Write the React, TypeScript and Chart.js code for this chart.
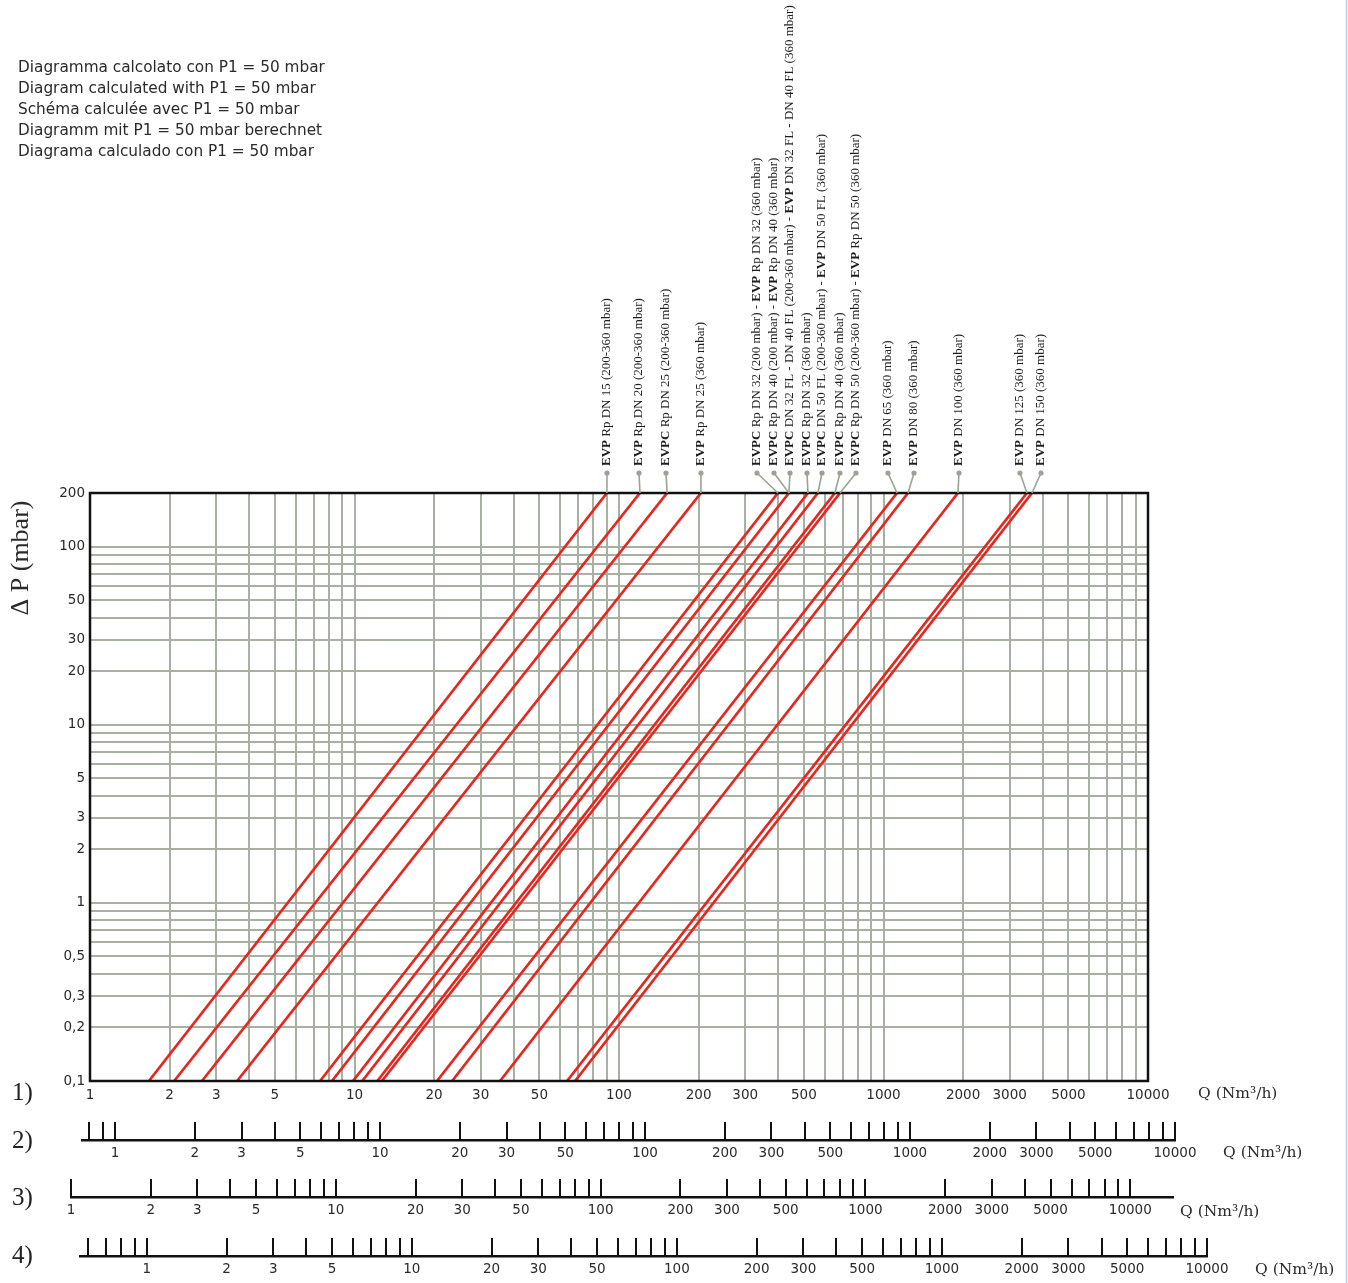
import React, { useEffect, useRef } from 'react';
import { Chart, registerables } from 'chart.js';

Chart.register(...registerables);

// ---------------- data ----------------
const DP_MIN = 0.1; // mbar, bottom end of every line
const DP_MAX = 200; // mbar, top end of every line
// flow (Nm3/h) where each red line meets ΔP = 0.1 and ΔP = 200
const Q_AT_DP_MIN = [1.67, 2.08, 2.65, 3.6, 7.41, 8.22, 9.87, 10.7, 12.2, 12.7, 20.5, 23.4, 35.5, 63.6, 68.2];
const Q_AT_DP_MAX = [90, 120, 152, 204, 399, 439, 518, 565, 655, 685, 1125, 1238, 1912, 3487, 3642];

const CURVE_LABELS = [
  'EVP Rp DN 15 (200-360 mbar)',
  'EVP Rp DN 20 (200-360 mbar)',
  'EVPC Rp DN 25 (200-360 mbar)',
  'EVP Rp DN 25 (360 mbar)',
  'EVPC Rp DN 32 (200 mbar) - EVP Rp DN 32 (360 mbar)',
  'EVPC Rp DN 40 (200 mbar) - EVP Rp DN 40 (360 mbar)',
  'EVPC DN 32 FL - DN 40 FL (200-360 mbar) - EVP DN 32 FL - DN 40 FL (360 mbar)',
  'EVPC Rp DN 32 (360 mbar)',
  'EVPC DN 50 FL (200-360 mbar) - EVP DN 50 FL (360 mbar)',
  'EVPC Rp DN 40 (360 mbar)',
  'EVPC Rp DN 50 (200-360 mbar) - EVP Rp DN 50 (360 mbar)',
  'EVP DN 65 (360 mbar)',
  'EVP DN 80 (360 mbar)',
  'EVP DN 100 (360 mbar)',
  'EVP DN 125 (360 mbar)',
  'EVP DN 150 (360 mbar)',
];
// which red line each label points to
const LABEL_LINE = [0, 1, 2, 3, 4, 5, 5, 6, 7, 8, 9, 10, 11, 12, 13, 14];

const NOTE_LINES = [
  'Diagramma calcolato con P1 = 50 mbar',
  'Diagram calculated with P1 = 50 mbar',
  'Schéma calculée avec P1 = 50 mbar',
  'Diagramm mit P1 = 50 mbar berechnet',
  'Diagrama calculado con P1 = 50 mbar',
];
const Y_TITLE = 'Δ P (mbar)';
const Q_TITLE = 'Q (Nm³/h)';
const ROW_NAMES = ['1)', '2)', '3)', '4)'];

const X_MIN = 1;
const X_MAX = 10000;
const Y_MIN = 0.1;
const Y_MAX = 200;
const MANTISSAS = [1, 2, 3, 4, 5, 6, 7, 8, 9];
const DECADES = [0.1, 1, 10, 100, 1000, 10000];
const LABELED_VALUES = [0.1, 0.2, 0.3, 0.5, 1, 2, 3, 5, 10, 20, 30, 50, 100, 200, 300, 500, 1000, 2000, 3000, 5000, 10000];
// extra scales 2) 3) 4)
const ROW_MIN = [0.75, 1, 0.56];
const ROW_MAX = [10000, 14500, 10000];
const ROW_FIRST_TICK = [0.8, 1, 0.6];
const ROW_LAST_TICK = [10000, 10000, 10000];

// ---------------- layout / style ----------------
const W = 1348;
const H = 1283;
const AREA = { left: 90, top: 493, right: 1148, bottom: 1081 };
const ROW_AXIS_Y = [1140, 1197, 1256];
const ROW_LINE_LEFT = [82, 71, 80];
const ROW_LINE_RIGHT = [1175, 1173, 1207];
const ROW_NAME_POS = [[12, 1093], [12, 1141], [12, 1198], [12, 1256]];
const Q_TITLE_POS = [[1198, 1094], [1223, 1153], [1180, 1212], [1255, 1270]];
const LABEL_X = [607, 639, 666, 701, 757, 774, 790, 807, 822, 840, 856, 888, 914, 959, 1020, 1041];
const DOT_Y = 473;
const RED = '#e3281f';
const GRID = '#a7b0a1';
const TEXT = '#2a2a2a';
const NUM_FONT = { family: 'DejaVu Sans', size: 13.5 };

function gridValues(from: number, to: number): number[] {
  const out: number[] = [];
  for (const d of DECADES) {
    for (const m of MANTISSAS) {
      const v = Number((m * d).toPrecision(3));
      if (v >= from - 1e-9 && v <= to + 1e-9) out.push(v);
    }
  }
  return out;
}

function fmt(v: number): string {
  const hit = LABELED_VALUES.find((l) => Math.abs(l - v) < 1e-9);
  return hit === undefined ? '' : String(hit).replace('.', ',');
}

function tokens(label: string) {
  return label.split(/(EVPC|EVP)/).filter((t) => t.length > 0).map((t) => ({ t, bold: t === 'EVP' || t === 'EVPC' }));
}

const decorPlugin = {
  id: 'decor',
  afterDraw(chart: any) {
    const { ctx, chartArea: a, scales } = chart;
    const xs = scales.x;
    ctx.save();
    // frame
    ctx.strokeStyle = '#111';
    ctx.lineWidth = 2.5;
    ctx.strokeRect(a.left, a.top, a.right - a.left, a.bottom - a.top);

    // right image edge
    ctx.strokeStyle = '#b9cde2';
    ctx.lineWidth = 1.5;
    ctx.beginPath();
    ctx.moveTo(1346.5, 0);
    ctx.lineTo(1346.5, H);
    ctx.stroke();

    // notes
    ctx.fillStyle = TEXT;
    ctx.font = '15.3px "DejaVu Sans"';
    ctx.textBaseline = 'middle';
    ctx.textAlign = 'left';
    NOTE_LINES.forEach((t, i) => ctx.fillText(t, 18, 68 + i * 21));

    // y title
    ctx.save();
    ctx.translate(21, 558);
    ctx.rotate(-Math.PI / 2);
    ctx.textAlign = 'center';
    ctx.font = '26px "Liberation Serif"';
    ctx.fillText(Y_TITLE, 0, 0);
    ctx.restore();

    // row names
    ctx.font = '25px "Liberation Serif"';
    ctx.fillStyle = '#222';
    ROW_NAMES.forEach((t, i) => ctx.fillText(t, ROW_NAME_POS[i][0], ROW_NAME_POS[i][1]));
    // Q titles
    ctx.font = '15.5px "DejaVu Serif"';
    ctx.fillStyle = TEXT;
    Q_TITLE_POS.forEach((p) => ctx.fillText(Q_TITLE, p[0], p[1]));

    // curve labels
    CURVE_LABELS.forEach((label, i) => {
      const lx = LABEL_X[i];
      const tx = xs.getPixelForValue(Q_AT_DP_MAX[LABEL_LINE[i]]);
      ctx.strokeStyle = '#9aa394';
      ctx.lineWidth = 1.6;
      ctx.beginPath();
      ctx.moveTo(lx, DOT_Y);
      ctx.lineTo(tx, a.top);
      ctx.stroke();
      ctx.fillStyle = '#9aa394';
      ctx.beginPath();
      ctx.arc(lx, DOT_Y, 2.6, 0, Math.PI * 2);
      ctx.fill();
      ctx.save();
      ctx.translate(lx, DOT_Y - 7);
      ctx.rotate(-Math.PI / 2);
      ctx.textAlign = 'left';
      ctx.textBaseline = 'middle';
      ctx.fillStyle = '#1e1e1e';
      let cx = 0;
      for (const tk of tokens(label)) {
        ctx.font = (tk.bold ? 'bold ' : '') + '13px "Liberation Serif"';
        ctx.fillText(tk.t, cx, 0);
        cx += ctx.measureText(tk.t).width;
      }
      ctx.restore();
    });
    ctx.restore();
  },
};

function mainConfig(): any {
  const xGrid = gridValues(X_MIN, X_MAX);
  const yGrid = gridValues(Y_MIN, Y_MAX);
  return {
    type: 'scatter',
    data: {
      datasets: Q_AT_DP_MIN.map((q0, i) => ({
        data: [
          { x: q0, y: DP_MIN },
          { x: Q_AT_DP_MAX[i], y: DP_MAX },
        ],
        showLine: true,
        borderColor: RED,
        borderWidth: 2.7,
        pointRadius: 0,
        fill: false,
      })),
    },
    options: {
      responsive: false,
      animation: false,
      events: [],
      layout: { padding: { left: 0, top: AREA.top, right: W - AREA.right, bottom: H - AREA.bottom - 30 } },
      plugins: { legend: { display: false }, tooltip: { enabled: false } },
      scales: {
        x: {
          type: 'logarithmic',
          min: X_MIN,
          max: X_MAX,
          afterBuildTicks: (s: any) => { s.ticks = xGrid.map((v) => ({ value: v })); },
          afterFit: (s: any) => { s.height = 30; },
          grid: { color: GRID, lineWidth: 2, drawTicks: false },
          border: { display: false },
          ticks: { autoSkip: false, maxRotation: 0, minRotation: 0, padding: 6, color: TEXT, font: NUM_FONT, callback: (v: any) => fmt(Number(v)) },
        },
        y: {
          type: 'logarithmic',
          min: Y_MIN,
          max: Y_MAX,
          afterBuildTicks: (s: any) => { s.ticks = yGrid.map((v) => ({ value: v })); },
          afterFit: (s: any) => { s.width = AREA.left; },
          grid: { color: GRID, lineWidth: 2, drawTicks: false },
          border: { display: false },
          ticks: { autoSkip: false, padding: 5, color: TEXT, font: NUM_FONT, callback: (v: any) => fmt(Number(v)) },
        },
      },
    },
    plugins: [decorPlugin],
  };
}

function rowConfig(r: number): any {
  const ticks = gridValues(ROW_FIRST_TICK[r], ROW_LAST_TICK[r]);
  return {
    type: 'scatter',
    data: { datasets: [] },
    options: {
      responsive: false,
      animation: false,
      events: [],
      layout: { padding: { left: ROW_LINE_LEFT[r], right: W - ROW_LINE_RIGHT[r], top: 12, bottom: 0 } },
      plugins: { legend: { display: false }, tooltip: { enabled: false } },
      scales: {
        x: {
          type: 'logarithmic',
          min: ROW_MIN[r],
          max: ROW_MAX[r],
          afterBuildTicks: (s: any) => { s.ticks = ticks.map((v) => ({ value: v })); },
          afterFit: (s: any) => { s.height = 30; },
          grid: { color: '#111', lineWidth: 2, drawTicks: false, drawOnChartArea: true },
          border: { display: true, color: '#111', width: 2.5 },
          ticks: { autoSkip: false, maxRotation: 0, minRotation: 0, padding: 5, color: TEXT, font: NUM_FONT, callback: (v: any) => fmt(Number(v)) },
        },
        y: { display: false, min: 0, max: 1 },
      },
    },
  };
}

export default function App() {
  const mainRef = useRef<HTMLCanvasElement>(null);
  const r0 = useRef<HTMLCanvasElement>(null);
  const r1 = useRef<HTMLCanvasElement>(null);
  const r2 = useRef<HTMLCanvasElement>(null);

  useEffect(() => {
    const charts: Chart[] = [];
    if (mainRef.current) charts.push(new Chart(mainRef.current, mainConfig()));
    [r0, r1, r2].forEach((ref, i) => {
      if (ref.current) charts.push(new Chart(ref.current, rowConfig(i)));
    });
    return () => charts.forEach((c) => c.destroy());
  }, []);

  return (
    <div style={{ position: 'absolute', left: 0, top: 0, width: W, height: H, background: '#fff' }}>
      <canvas ref={mainRef} width={W} height={H} style={{ position: 'absolute', left: 0, top: 0 }} />
      {[r0, r1, r2].map((ref, i) => (
        <canvas
          key={i}
          ref={ref}
          width={W}
          height={60}
          style={{ position: 'absolute', left: 0, top: ROW_AXIS_Y[i] - 30 }}
        />
      ))}
    </div>
  );
}
